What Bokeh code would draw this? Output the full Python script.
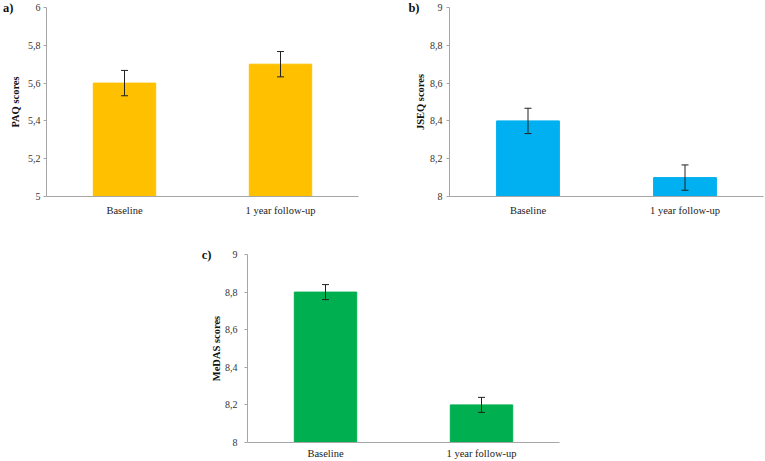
from bokeh.plotting import figure
from bokeh.models import (ColumnDataSource, FactorRange, FixedTicker, Whisker, TeeHead,
                          Range1d, Spacer, LinearAxis)
from bokeh.layouts import column, row
from bokeh.embed import file_html
from bokeh.resources import INLINE

categories = ["Baseline", "1 year follow-up"]

paq_values = [5.6, 5.7]
paq_err = [0.067, 0.067]
jseq_values = [8.4, 8.1]
jseq_err = [0.067, 0.067]
medas_values = [8.8, 8.2]
medas_err = [0.04, 0.04]

paq_ticks = [5, 5.2, 5.4, 5.6, 5.8, 6]
paq_tick_labels = ["5", "5,2", "5,4", "5,6", "5,8", "6"]
high_ticks = [8, 8.2, 8.4, 8.6, 8.8, 9]
high_tick_labels = ["8", "8,2", "8,4", "8,6", "8,8", "9"]

FONT = "'Liberation Serif', 'Times New Roman', serif"
AXIS_GRAY = "#a6a6a6"


def make_panel(values, errs, color, ylabel, tag, ymin, ymax, ticks, tick_labels,
               width, height, bl, br, bt, bb, tick_standoff, label_standoff,
               tag_standoff, x_standoff):
    p = figure(x_range=FactorRange(*categories, range_padding=0),
               y_range=Range1d(ymin, ymax),
               width=width, height=height, output_backend="svg",
               toolbar_location=None, min_border_left=bl, min_border_right=br,
               min_border_top=bt, min_border_bottom=bb)
    lower = [v - e for v, e in zip(values, errs)]
    upper = [v + e for v, e in zip(values, errs)]
    src = ColumnDataSource(dict(x=categories, top=values, lower=lower, upper=upper))
    p.vbar(x="x", top="top", bottom=ymin, width=0.4, source=src,
           fill_color=color, line_color=color)
    w = Whisker(base="x", lower="lower", upper="upper", source=src, level="overlay",
                line_color="#222222", line_width=1,
                upper_head=TeeHead(size=7, line_color="#222222", line_width=1),
                lower_head=TeeHead(size=7, line_color="#222222", line_width=1))
    p.add_layout(w)
    p.xgrid.grid_line_color = None
    p.ygrid.grid_line_color = None
    p.outline_line_color = None

    # main y axis
    ya = p.yaxis[0]
    ya.ticker = FixedTicker(ticks=ticks)
    ya.major_label_overrides = {t: l for t, l in zip(ticks, tick_labels)}
    ya.axis_line_color = AXIS_GRAY
    ya.major_tick_line_color = AXIS_GRAY
    ya.major_tick_in = 0
    ya.major_tick_out = 3
    ya.minor_tick_line_color = None
    ya.major_label_text_font = FONT
    ya.major_label_text_font_size = "10px"
    ya.major_label_text_color = "#333333"
    ya.major_label_standoff = tick_standoff
    ya.axis_label = ylabel
    ya.axis_label_text_font = FONT
    ya.axis_label_text_font_size = "10.5px"
    ya.axis_label_text_font_style = "bold"
    ya.axis_label_text_color = "#111111"
    ya.axis_label_standoff = label_standoff

    # x axis
    xa = p.xaxis[0]
    xa.axis_line_color = AXIS_GRAY
    xa.major_tick_line_color = None
    xa.major_tick_in = 0
    xa.major_tick_out = 0
    xa.minor_tick_line_color = None
    xa.major_label_text_font = FONT
    xa.major_label_text_font_size = "10.5px"
    xa.major_label_text_color = "#222222"
    xa.major_label_standoff = x_standoff

    # panel tag ("a)", "b)", "c)") drawn as an outer axis label at the top value
    tag_axis = LinearAxis(ticker=FixedTicker(ticks=[ymax]),
                          major_label_overrides={ymax: tag},
                          axis_line_color=None, major_tick_line_color=None,
                          minor_tick_line_color=None,
                          major_tick_in=0, major_tick_out=0,
                          major_label_standoff=tag_standoff,
                          major_label_text_font=FONT,
                          major_label_text_font_size="12.5px",
                          major_label_text_font_style="bold",
                          major_label_text_color="#111111")
    p.add_layout(tag_axis, "left")
    return p


pa = make_panel(paq_values, paq_err, "#FFC000", "PAQ scores", "a)", 5, 6,
                paq_ticks, paq_tick_labels, 380, 222, 44, 22, 7, 26, 3, 4, -7, 8)
pb = make_panel(jseq_values, jseq_err, "#00B0F0", "JSEQ scores", "b)", 8, 9,
                high_ticks, high_tick_labels, 385, 222, 69, 2, 7, 26, 4, 1, -8, 8)
pc = make_panel(medas_values, medas_err, "#00B050", "MeDAS scores", "c)", 8, 9,
                high_ticks, high_tick_labels, 389, 239, 67, 10, 32, 18, 7, 0, -4, 5)

layout = column(row(pa, pb), row(Spacer(width=180, height=239), pc))

open("out.html", "w").write(file_html(layout, INLINE))
